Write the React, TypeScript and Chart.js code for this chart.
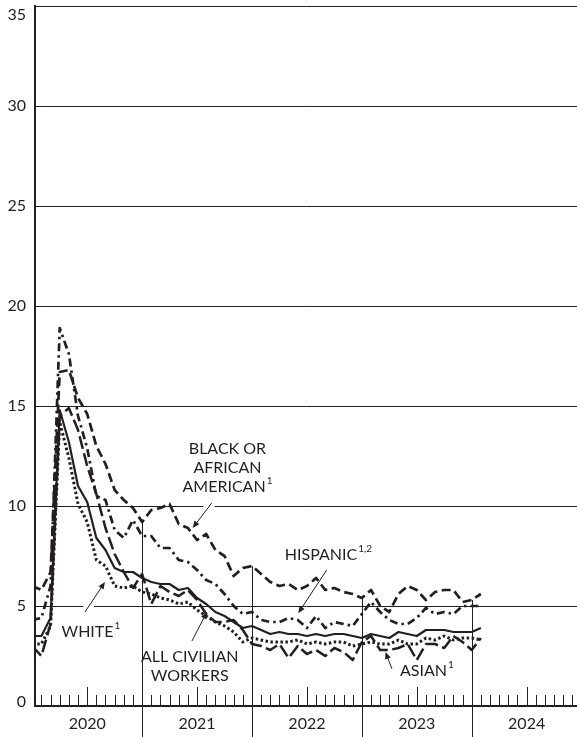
import React, { useEffect, useRef } from "react";
import { Chart, registerables } from "chart.js";

Chart.register(...registerables);

// ---------- data ----------
const YEARS = ["2020", "2021", "2022", "2023", "2024"];
const MONTH_NAMES = ["Jan", "Feb", "Mar", "Apr", "May", "Jun", "Jul", "Aug", "Sep", "Oct", "Nov", "Dec"];
// Jan 2020 – Feb 2024
const MONTHS = YEARS.flatMap((y) => MONTH_NAMES.map((m) => `${m} ${y}`)).slice(0, 50);

const ALL_WORKERS = [
  3.5, 3.5, 4.4, 14.8, 13.2, 11.0, 10.2, 8.4, 7.8, 6.9, 6.7, 6.7,
  6.4, 6.2, 6.1, 6.1, 5.8, 5.9, 5.4, 5.1, 4.7, 4.5, 4.2, 3.9,
  4.0, 3.8, 3.6, 3.7, 3.6, 3.6, 3.5, 3.6, 3.5, 3.6, 3.6, 3.5,
  3.4, 3.6, 3.5, 3.4, 3.7, 3.6, 3.5, 3.8, 3.8, 3.8, 3.7, 3.7,
  3.7, 3.9,
];
const WHITE = [
  3.1, 3.1, 4.0, 14.2, 12.4, 10.1, 9.2, 7.3, 7.0, 6.0, 5.9, 6.0,
  5.7, 5.6, 5.4, 5.3, 5.1, 5.2, 4.8, 4.5, 4.2, 4.0, 3.7, 3.2,
  3.4, 3.3, 3.2, 3.2, 3.2, 3.3, 3.1, 3.2, 3.1, 3.2, 3.2, 3.0,
  3.1, 3.2, 3.1, 3.1, 3.3, 3.1, 3.1, 3.4, 3.3, 3.5, 3.3, 3.4,
  3.4, 3.3,
];
const BLACK = [
  6.0, 5.8, 6.7, 16.7, 16.8, 15.4, 14.6, 13.0, 12.1, 10.8, 10.3, 9.9,
  9.2, 9.8, 9.9, 10.1, 9.1, 8.9, 8.3, 8.6, 7.8, 7.5, 6.5, 6.9,
  7.0, 6.6, 6.2, 6.0, 6.1, 5.8, 6.0, 6.4, 5.8, 5.9, 5.7, 5.6,
  5.4, 5.8, 5.0, 4.7, 5.6, 6.0, 5.8, 5.3, 5.7, 5.8, 5.8, 5.2,
  5.3, 5.6,
];
const HISPANIC = [
  4.3, 4.4, 6.0, 18.9, 17.6, 14.5, 12.9, 10.5, 10.3, 8.8, 8.4, 9.3,
  8.5, 8.5, 7.9, 7.9, 7.3, 7.2, 6.8, 6.3, 6.1, 5.6, 5.0, 4.6,
  4.7, 4.3, 4.2, 4.2, 4.4, 4.3, 3.9, 4.5, 3.9, 4.2, 4.1, 4.0,
  4.6, 5.2, 4.7, 4.3, 4.1, 4.1, 4.4, 4.9, 4.6, 4.7, 4.6, 5.0,
  5.0, 5.0,
];
const ASIAN = [
  3.0, 2.5, 4.1, 14.5, 14.9, 13.8, 12.0, 10.6, 8.9, 7.6, 6.7, 5.9,
  6.6, 5.1, 6.0, 5.7, 5.5, 5.8, 5.3, 4.6, 4.2, 4.2, 4.3, 3.8,
  3.1, 3.0, 2.8, 3.1, 2.4, 3.0, 2.6, 2.8, 2.5, 2.9, 2.7, 2.3,
  3.2, 3.5, 2.8, 2.8, 2.9, 3.1, 2.3, 3.1, 3.1, 2.9, 3.5, 3.2,
  2.8, 3.4,
];

const Y_TICKS = [0, 5, 10, 15, 20, 25, 30, 35];

// ---------- styling ----------
const INK = "#231f20";
const FONT = "Lato, 'DejaVu Sans', sans-serif";

const SERIES = [
  { label: "All civilian workers", data: ALL_WORKERS, width: 2.2, dash: [] as number[] },
  { label: "White", data: WHITE, width: 3, dash: [2.5, 2.5] },
  { label: "Black or African American", data: BLACK, width: 2.7, dash: [9, 4.5] },
  { label: "Hispanic", data: HISPANIC, width: 2.7, dash: [8, 4, 2.5, 4] },
  { label: "Asian", data: ASIAN, width: 2.5, dash: [13, 4.5] },
];

type Note = {
  lines: string[];
  sup: string;
  x: number;
  y: number;
  from: [number, number];
  to: [number, number];
  halo: boolean;
};

// label positions in data units (month index, percent)
const NOTES: Note[] = [
  { lines: ["BLACK OR", "AFRICAN", "AMERICAN"], sup: "1", x: 21.32, y: 11.9, from: [19.6, 10.15], to: [17.52, 8.9], halo: true },
  { lines: ["HISPANIC"], sup: "1,2", x: 32.35, y: 7.55, from: [32.16, 6.8], to: [29.05, 4.64], halo: false },
  { lines: ["WHITE"], sup: "1", x: 6.41, y: 3.7, from: [5.76, 4.7], to: [7.94, 6.2], halo: true },
  { lines: ["ALL CIVILIAN", "WORKERS"], sup: "", x: 17.2, y: 2.0, from: [17.44, 3.25], to: [19.08, 4.7], halo: false },
  { lines: ["ASIAN"], sup: "1", x: 43.11, y: 1.75, from: [39.29, 1.85], to: [38.58, 2.7], halo: false },
];

const LINE_GAP = 19;

function drawArrow(ctx: CanvasRenderingContext2D, x1: number, y1: number, x2: number, y2: number) {
  const ang = Math.atan2(y2 - y1, x2 - x1);
  const head = 7;
  const half = 3;
  ctx.beginPath();
  ctx.moveTo(x1, y1);
  ctx.lineTo(x2 - Math.cos(ang) * head * 0.8, y2 - Math.sin(ang) * head * 0.8);
  ctx.stroke();
  ctx.beginPath();
  ctx.moveTo(x2, y2);
  ctx.lineTo(x2 - Math.cos(ang) * head - Math.sin(ang) * half, y2 - Math.sin(ang) * head + Math.cos(ang) * half);
  ctx.lineTo(x2 - Math.cos(ang) * head + Math.sin(ang) * half, y2 - Math.sin(ang) * head - Math.cos(ang) * half);
  ctx.closePath();
  ctx.fill();
}

const overlayPlugin = {
  id: "overlay",
  beforeDatasetsDraw(chart: any) {
    const { ctx, chartArea } = chart;
    const xs = chart.scales.x;
    const ys = chart.scales.y;
    ctx.save();
    // white halos behind some arrows (knock out gridlines)
    ctx.strokeStyle = "#ffffff";
    ctx.lineWidth = 9;
    ctx.lineCap = "butt";
    for (const n of NOTES) {
      if (!n.halo) continue;
      ctx.beginPath();
      ctx.moveTo(xs.getPixelForValue(n.from[0]), ys.getPixelForValue(n.from[1]));
      ctx.lineTo(xs.getPixelForValue(n.to[0]), ys.getPixelForValue(n.to[1]));
      ctx.stroke();
    }
    // year separators rising to the top series value
    ctx.strokeStyle = INK;
    ctx.lineWidth = 1;
    const y0 = ys.getPixelForValue(0);
    for (let k = 1; k < YEARS.length; k++) {
      const idx = 12 * k;
      const px = Math.round(xs.getPixelForValue(idx)) + 0.5;
      let top = y0;
      if (idx < MONTHS.length) {
        const vmax = Math.max(...SERIES.map((s) => s.data[idx]));
        top = ys.getPixelForValue(vmax);
      }
      ctx.beginPath();
      ctx.moveTo(px, top);
      ctx.lineTo(px, chart.height);
      ctx.stroke();
    }
    // monthly tick marks inside the plot
    for (let i = 1; i < 12 * YEARS.length; i++) {
      if (i % 12 === 0) continue;
      const px = Math.round(xs.getPixelForValue(i)) + 0.5;
      if (px > chartArea.right) break;
      const len = i % 12 === 6 ? 19 : 11;
      ctx.beginPath();
      ctx.moveTo(px, y0);
      ctx.lineTo(px, y0 - len);
      ctx.stroke();
    }
    ctx.restore();
  },
  afterDatasetsDraw(chart: any) {
    const { ctx, chartArea } = chart;
    const xs = chart.scales.x;
    const ys = chart.scales.y;
    ctx.save();
    ctx.fillStyle = INK;
    ctx.strokeStyle = INK;
    ctx.lineWidth = 1;
    // arrows
    for (const n of NOTES) {
      drawArrow(
        ctx,
        xs.getPixelForValue(n.from[0]),
        ys.getPixelForValue(n.from[1]),
        xs.getPixelForValue(n.to[0]),
        ys.getPixelForValue(n.to[1])
      );
    }
    // labels
    ctx.textBaseline = "middle";
    ctx.textAlign = "left";
    for (const n of NOTES) {
      const cx = xs.getPixelForValue(n.x);
      const cy = ys.getPixelForValue(n.y);
      const startY = cy - ((n.lines.length - 1) * LINE_GAP) / 2;
      n.lines.forEach((line, i) => {
        const isLast = i === n.lines.length - 1;
        ctx.font = `16px ${FONT}`;
        const w = ctx.measureText(line).width;
        ctx.font = `10px ${FONT}`;
        const sw = isLast && n.sup ? ctx.measureText(n.sup).width + 1 : 0;
        const lx = cx - (w + sw) / 2;
        const ly = startY + i * LINE_GAP;
        ctx.font = `16px ${FONT}`;
        ctx.fillText(line, lx, ly);
        if (isLast && n.sup) {
          ctx.font = `10px ${FONT}`;
          ctx.fillText(n.sup, lx + w + 1, ly - 6);
        }
      });
    }
    // y tick labels
    ctx.font = `16px ${FONT}`;
    ctx.textAlign = "right";
    for (const v of Y_TICKS) {
      let py = ys.getPixelForValue(v);
      py = Math.max(chartArea.top + 9, Math.min(chartArea.bottom - 4, py));
      ctx.fillText(String(v), chartArea.left - 9, py);
    }
    ctx.restore();
  },
};

export default function App() {
  const canvasRef = useRef<HTMLCanvasElement | null>(null);

  useEffect(() => {
    document.body.style.margin = "0";
    const canvas = canvasRef.current;
    if (!canvas) return;
    const chart = new Chart(canvas, {
      type: "line",
      data: {
        datasets: SERIES.map((s) => ({
          label: s.label,
          data: MONTHS.map((_, i) => ({ x: i, y: s.data[i] })),
          borderColor: INK,
          backgroundColor: INK,
          borderWidth: s.width,
          borderDash: s.dash,
          borderCapStyle: "butt",
          borderJoinStyle: "round",
          pointRadius: 0,
          tension: 0,
          fill: false,
        })),
      },
      options: {
        responsive: false,
        animation: false,
        devicePixelRatio: 1,
        layout: { padding: { top: 6, right: 0, bottom: 0, left: 0 } },
        plugins: {
          legend: { display: false },
          tooltip: { enabled: false },
          title: { display: false },
        },
        scales: {
          x: {
            type: "linear",
            min: 0.3,
            max: 59.5,
            grid: { display: false, drawTicks: false },
            border: { display: true, color: INK, width: 2 },
            afterBuildTicks: (scale: any) => {
              scale.ticks = YEARS.map((_, k) => ({ value: 12 * k + 6 }));
            },
            afterFit: (scale: any) => {
              scale.height = 31;
            },
            ticks: {
              autoSkip: false,
              maxRotation: 0,
              padding: 8,
              color: INK,
              font: { family: FONT, size: 16 },
              callback: (value: any) => YEARS[Math.round((Number(value) - 6) / 12)] ?? "",
            },
          },
          y: {
            min: 0,
            max: 35,
            grid: { color: INK, lineWidth: 1, drawTicks: false },
            border: { display: true, color: INK, width: 2 },
            afterFit: (scale: any) => {
              scale.width = 35;
            },
            ticks: { display: false, stepSize: 5 },
          },
        },
      } as any,
      plugins: [overlayPlugin],
    });
    return () => chart.destroy();
  }, []);

  return (
    <div style={{ width: 577, height: 737 }}>
      <canvas ref={canvasRef} width={577} height={737} style={{ display: "block" }} />
    </div>
  );
}
